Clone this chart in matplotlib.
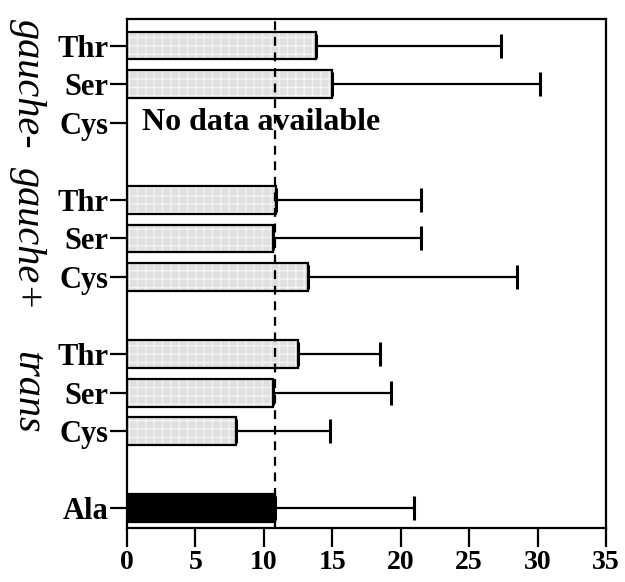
import numpy as np
import matplotlib
matplotlib.use("Agg")
import matplotlib.pyplot as plt
from matplotlib.transforms import blended_transform_factory

# Residue labels (top to bottom) and their conformer groups
residues = ["Thr", "Ser", "Cys", "Thr", "Ser", "Cys", "Thr", "Ser", "Cys", "Ala"]
groups = ["gauche-", "gauche+", "trans"]
# Slot positions: three residues per group, one empty slot between groups
positions = [0, 1, 2, 4, 5, 6, 8, 9, 10, 12]

# Mean values and upper error (NaN = no data)
means = [13.8, 15.0, np.nan, 10.9, 10.7, 13.2, 12.5, 10.7, 8.0, 10.8]
errors = [13.5, 15.2, np.nan, 10.6, 10.8, 15.3, 6.0, 8.6, 6.8, 10.2]
reference_value = 10.8

xticks = [0, 5, 10, 15, 20, 25, 30, 35]

serif = ["Liberation Serif", "DejaVu Serif"]
plt.rcParams["font.family"] = serif
plt.rcParams["axes.linewidth"] = 1.6

fig = plt.figure(figsize=(6.25, 5.82), dpi=100)
ax = fig.add_axes([127 / 625, 1 - 528 / 582, (606 - 127) / 625, (528 - 19) / 582])

pos = np.array(positions, dtype=float)
vals = np.array(means, dtype=float)
errs = np.array(errors, dtype=float)
valid = ~np.isnan(vals)
is_ala = np.array([r == "Ala" for r in residues])
bar_h = 0.72

# Light dotted-grid bars for Thr/Ser/Cys, solid black for Ala
grey = valid & ~is_ala
ax.barh(pos[grey], vals[grey], height=bar_h, color="#e0e0e0",
        edgecolor="#f3f3f3", hatch="++", linewidth=0, zorder=2)
ax.barh(pos[grey], vals[grey], height=bar_h, fill=False,
        edgecolor="black", linewidth=1.6, zorder=3)
ax.barh(pos[is_ala], vals[is_ala], height=bar_h, color="black",
        edgecolor="black", linewidth=1.6, zorder=3)

# One-sided error bars
ax.errorbar(vals[valid], pos[valid],
            xerr=[np.zeros(valid.sum()), errs[valid]],
            fmt="none", ecolor="black", elinewidth=1.6,
            capsize=8.5, capthick=2.2, zorder=2.5)

# Reference line
ax.axvline(reference_value, color="black", linewidth=1.6,
           linestyle=(0, (4, 3)), zorder=4)

# Missing-data note
missing = np.where(~valid)[0]
for i in missing:
    ax.text(1.1, pos[i], "No data available", fontsize=23, fontweight="bold",
            va="center", ha="left", zorder=3.5)

ax.set_xlim(0, 35)
ax.set_ylim(12.51, -0.69)
ax.set_xticks(xticks)
ax.set_xticklabels([str(t) for t in xticks], fontsize=20, fontweight="bold")
ax.set_yticks(positions)
ax.set_yticklabels(residues, fontsize=22, fontweight="bold")
ax.tick_params(axis="x", direction="out", length=13.5, width=1.6, pad=2.5)
ax.tick_params(axis="y", direction="out", length=12, width=1.6, pad=1.5)

# Group labels, rotated along the left edge
trans = blended_transform_factory(fig.transFigure, ax.transData)
for name, center in zip(groups, [1, 5, 9]):
    ax.text(27 / 625, center, name, transform=trans, rotation=-90,
            fontsize=29, fontstyle="italic", ha="center", va="center")

fig.savefig("out.png", dpi=100)
